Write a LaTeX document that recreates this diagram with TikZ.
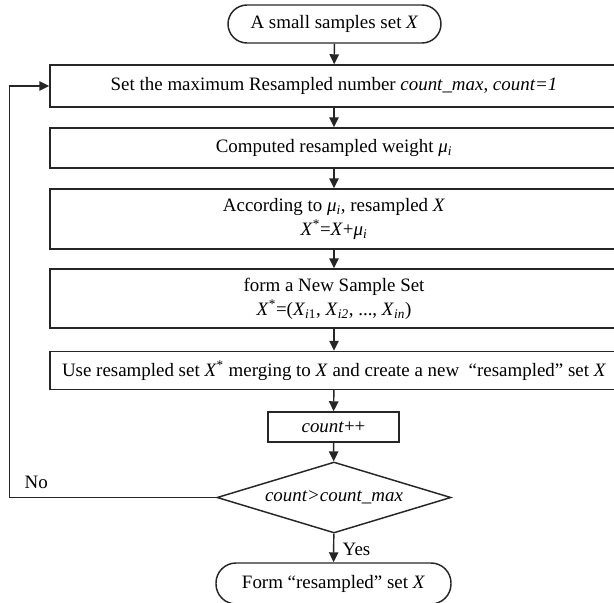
\documentclass[tikz,border=0pt]{standalone}
\usepackage{fontspec}
\setmainfont{Liberation Serif}
\usetikzlibrary{shapes.geometric,arrows.meta}
\begin{document}
\begin{tikzpicture}[x=0.75pt,y=-0.75pt,line width=1.1pt,
  every node/.style={font=\fontsize{14.2}{18}\selectfont},
  box/.style={draw=black!85, rectangle, inner sep=0pt, align=center},
  term/.style={draw=black!85, rectangle, inner sep=0pt, align=center},
  decision/.style={draw=black!85, diamond, inner sep=0pt, align=center},
  arr/.style={draw=black!85, -{Triangle[length=7.5pt,width=7pt]}},
  lbl/.style={inner sep=0pt, anchor=west}]
\useasboundingbox (0,0) rectangle (614,603);
\clip (0,0) rectangle (614,603);
\node[term, rounded corners=14.25pt, minimum width=159.75pt, minimum height=28.5pt] (start) at (334.5,24) {A small samples set \textit{X}};
\node[box, minimum width=426pt, minimum height=31.5pt] (b1) at (334,86) {Set the maximum Resampled number \textit{count\_max}, \textit{count=1}};
\node[box, minimum width=426pt, minimum height=30pt] (b2) at (334,148) {Computed resampled weight \textit{μ}\textsubscript{\textit{i}}};
\node[box, minimum width=426pt, minimum height=45pt] (b3) at (334,219) {According to \textit{μ}\textsubscript{\textit{i}}, resampled \textit{X}\\ \textit{X}\textsuperscript{*}=\textit{X}+\textit{μ}\textsubscript{\textit{i}}};
\node[box, minimum width=426pt, minimum height=44.25pt] (b4) at (334,298.5) {form a New Sample Set\\ \textit{X}\textsuperscript{*}=(\textit{X}\textsubscript{\textit{i}1}, \textit{X}\textsubscript{\textit{i2}}, ..., \textit{X}\textsubscript{\textit{in}})};
\node[box, minimum width=426pt, minimum height=28.5pt] (b5) at (334,370.5) {Use resampled set \textit{X}\textsuperscript{*} merging to \textit{X} and create a new ~“resampled” set \textit{X}};
\node[box, minimum width=98.25pt, minimum height=22.5pt] (inc) at (333.5,427) {\textit{count}++};
\node[decision, minimum width=175.5pt, minimum height=53.25pt] (dec) at (334,497.5) {\makebox[0pt]{\textit{count>count\_max}}};
\node[term, rounded corners=15pt, minimum width=176.25pt, minimum height=30.75pt] (stop) at (333.5,583.5) {Form “resampled” set \textit{X}};
\node[lbl] (yes) at (342,549) {Yes};
\node[lbl] (no) at (24,482) {No};
\coordinate (fb) at (9.5,497.5);
\draw[arr] (start) -- (b1);
\draw[arr] (b1) -- (b2);
\draw[arr] (b2) -- (b3);
\draw[arr] (b3) -- (b4);
\draw[arr] (b4) -- (b5);
\draw[arr] (b5) -- (inc);
\draw[arr] (inc) -- (dec);
\draw[arr] (dec) -- (stop);
\draw[arr] (dec.west) -- (fb) |- (b1.west);
\end{tikzpicture}
\end{document}
